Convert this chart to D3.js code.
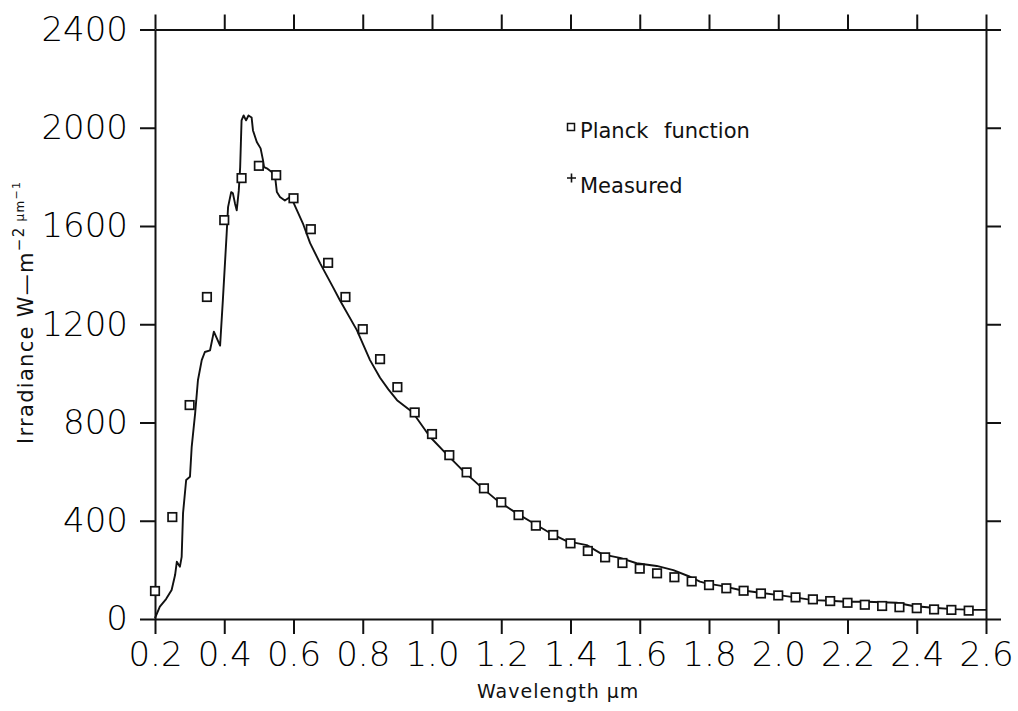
<!DOCTYPE html>
<html>
<head>
<meta charset="utf-8">
<script src="https://cdn.jsdelivr.net/npm/d3@7"></script>
<style>
  body { margin: 0; background: #fff; }
  svg { display: block; }
  .axis path, .axis line { stroke: #111; stroke-width: 2px; }
  .axis text { font-family: "DejaVu Sans", sans-serif; font-weight: 200; fill: #000; }
</style>
</head>
<body>
<div id="chart"></div>
<script>
(function () {
  // tick labels
  var xTicks = [0.2, 0.4, 0.6, 0.8, 1.0, 1.2, 1.4, 1.6, 1.8, 2.0, 2.2, 2.4, 2.6];
  var yTicks = [0, 400, 800, 1200, 1600, 2000, 2400];

  // Planck function markers (squares)
  var planckWl = [0.20, 0.25, 0.30, 0.35, 0.40, 0.45, 0.50, 0.55, 0.60, 0.65,
    0.70, 0.75, 0.80, 0.85, 0.90, 0.95, 1.00, 1.05, 1.10, 1.15,
    1.20, 1.25, 1.30, 1.35, 1.40, 1.45, 1.50, 1.55, 1.60, 1.65,
    1.70, 1.75, 1.80, 1.85, 1.90, 1.95, 2.00, 2.05, 2.10, 2.15,
    2.20, 2.25, 2.30, 2.35, 2.40, 2.45, 2.50, 2.55];
  var planckVal = [114, 415, 871, 1311, 1624, 1795, 1845, 1807, 1713, 1587,
    1450, 1311, 1180, 1058, 944, 841, 753, 667, 597, 532,
    475, 423, 380, 342, 308, 277, 251, 228, 205, 186,
    170, 153, 138, 125, 115, 104, 96, 88, 80, 73,
    66, 58, 53, 48, 44, 39, 37, 34];

  // Measured spectrum (line)
  var measWl = [0.200, 0.214, 0.232, 0.248, 0.258, 0.263, 0.272, 0.277, 0.281, 0.290,
    0.301, 0.306, 0.316, 0.324, 0.335, 0.344, 0.359, 0.370, 0.388, 0.396,
    0.407, 0.411, 0.420, 0.425, 0.431, 0.436, 0.442, 0.446, 0.448, 0.450,
    0.456, 0.463, 0.470, 0.479, 0.483, 0.494, 0.505, 0.512, 0.515, 0.523,
    0.537, 0.547, 0.552, 0.561, 0.575, 0.590, 0.599, 0.627, 0.648, 0.677,
    0.714, 0.734, 0.783, 0.821, 0.850, 0.874, 0.899, 0.944, 0.994, 1.042,
    1.090, 1.139, 1.187, 1.245, 1.292, 1.341, 1.389, 1.447, 1.492, 1.543,
    1.591, 1.649, 1.697, 1.745, 1.774, 1.793, 1.840, 1.890, 1.947, 1.996,
    2.043, 2.100, 2.149, 2.198, 2.255, 2.342, 2.389, 2.447, 2.505, 2.562, 2.600];
  var measVal = [4, 50, 81, 118, 179, 233, 213, 253, 431, 566,
    579, 701, 838, 972, 1054, 1087, 1094, 1170, 1113, 1298,
    1570, 1677, 1738, 1733, 1692, 1664, 1745, 1840, 1936, 2030,
    2050, 2030, 2050, 2042, 1989, 1942, 1916, 1867, 1840, 1835,
    1820, 1799, 1738, 1718, 1704, 1718, 1698, 1611, 1530, 1448,
    1351, 1298, 1176, 1054, 982, 935, 891, 842, 742, 671,
    603, 541, 484, 430, 391, 350, 317, 301, 263, 249,
    227, 216, 199, 172, 152, 145, 134, 118, 107, 98,
    89, 77, 74, 70, 70, 66, 53, 46, 40, 37, 37];

  var W = 1018, H = 711;
  var margin = { top: 29.5, left: 155, right: 32, bottom: 92 };
  var width = W - margin.left - margin.right;
  var height = H - margin.top - margin.bottom;

  var svg = d3.select("#chart").append("svg")
    .attr("width", W)
    .attr("height", H);

  var g = svg.append("g")
    .attr("transform", "translate(" + margin.left + "," + margin.top + ")");

  var x = d3.scaleLinear().domain([0.2, 2.6]).range([0, width]);
  var y = d3.scaleLinear().domain([0, 2400]).range([height, 0]);

  var tickLen = 15;

  // left axis with labels
  g.append("g").attr("class", "axis")
    .call(d3.axisLeft(y).tickValues(yTicks).tickSize(tickLen).tickSizeOuter(0)
      .tickPadding(12).tickFormat(d3.format("d")))
    .selectAll("text").style("font-size", "34px");

  // right axis, ticks only
  g.append("g").attr("class", "axis")
    .attr("transform", "translate(" + width + ",0)")
    .call(d3.axisRight(y).tickValues(yTicks).tickSize(tickLen).tickSizeOuter(0).tickFormat(""));

  // bottom axis with labels
  g.append("g").attr("class", "axis")
    .attr("transform", "translate(0," + height + ")")
    .call(d3.axisBottom(x).tickValues(xTicks).tickSize(tickLen).tickSizeOuter(0)
      .tickPadding(8).tickFormat(d3.format(".1f")))
    .selectAll("text").style("font-size", "34px");

  // top axis, ticks only
  g.append("g").attr("class", "axis")
    .call(d3.axisTop(x).tickValues(xTicks).tickSize(tickLen).tickSizeOuter(0).tickFormat(""));

  // measured line
  var measured = measWl.map(function (d, i) { return { wl: d, v: measVal[i] }; });
  g.append("path")
    .datum(measured)
    .attr("fill", "none")
    .attr("stroke", "#111")
    .attr("stroke-width", 1.9)
    .attr("stroke-linejoin", "round")
    .attr("d", d3.line()
      .x(function (d) { return x(d.wl); })
      .y(function (d) { return y(d.v); }));

  // planck squares
  var sq = 8.5;
  var planck = planckWl.map(function (d, i) { return { wl: d, v: planckVal[i] }; });
  g.selectAll(".planck")
    .data(planck)
    .enter()
    .append("rect")
    .attr("class", "planck")
    .attr("x", function (d) { return x(d.wl) - sq / 2; })
    .attr("y", function (d) { return y(d.v) - sq / 2; })
    .attr("width", sq)
    .attr("height", sq)
    .attr("fill", "#fff")
    .attr("stroke", "#111")
    .attr("stroke-width", 1.7);

  // legend
  var font = "'DejaVu Sans', sans-serif";
  svg.append("rect")
    .attr("x", 567.5).attr("y", 123.5).attr("width", 7).attr("height", 7)
    .attr("fill", "none").attr("stroke", "#111").attr("stroke-width", 1.5);
  svg.append("text")
    .attr("x", 580).attr("y", 138)
    .style("font-family", font).style("font-size", "21px")
    .style("word-spacing", "9px").style("fill", "#111")
    .text("Planck function");

  svg.append("path")
    .attr("d", "M567,178H576M571.5,173.5V182.5")
    .attr("stroke", "#111").attr("stroke-width", 1.6);
  svg.append("text")
    .attr("x", 580).attr("y", 193)
    .style("font-family", font).style("font-size", "21px")
    .style("fill", "#111")
    .text("Measured");

  // x-axis label
  svg.append("text")
    .attr("x", 477).attr("y", 698)
    .style("font-family", font).style("font-size", "19px")
    .style("letter-spacing", "1px").style("fill", "#111")
    .text("Wavelength  \u03bcm");

  // y-axis label
  var yl = svg.append("text")
    .attr("transform", "translate(33,444) rotate(-90)")
    .style("font-family", font).style("font-size", "21px")
    .style("letter-spacing", "1.3px").style("fill", "#111");
  yl.append("tspan").text("Irradiance  W\u2014m");
  yl.append("tspan").attr("dy", -9).style("font-size", "15px").text("\u22122");
  yl.append("tspan").attr("dx", 5).style("font-size", "12px").text("\u03bcm");
  yl.append("tspan").attr("dy", -4).style("font-size", "11px").text("\u22121");
})();
</script>
</body>
</html>
